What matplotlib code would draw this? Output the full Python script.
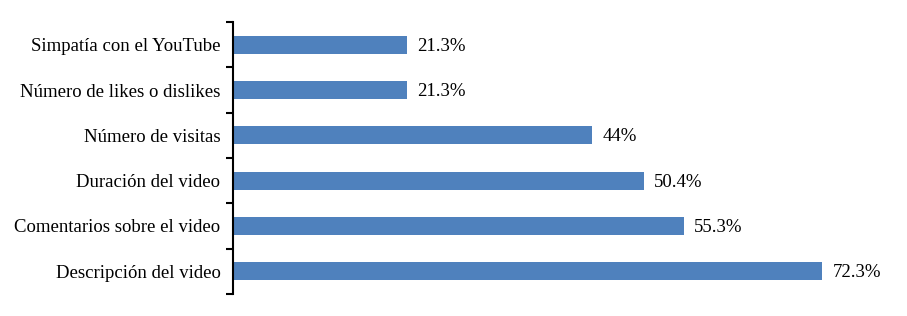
import matplotlib.pyplot as plt
import numpy as np

categories = ["Descripción del video", "Comentarios sobre el video", "Duración del video",
              "Número de visitas", "Número de likes o dislikes", "Simpatía con el YouTube"]
values = [72.3, 55.3, 50.4, 44, 21.3, 21.3]
value_labels = ["72.3%", "55.3%", "50.4%", "44%", "21.3%", "21.3%"]

plt.rcParams['font.family'] = ['Liberation Serif', 'DejaVu Serif']

fig = plt.figure(figsize=(9.07, 3.16), dpi=100)
ax = fig.add_axes([233 / 907, 22 / 316, (885 - 233) / 907, (294 - 22) / 316])

y = np.arange(len(categories))
ax.barh(y, values, height=0.4, color='#4F81BD', left=0)

for yi, v, lab in zip(y, values, value_labels):
    ax.text(v + 1.3, yi - 0.03, lab, va='center', ha='left', fontsize=13.5)

ax.set_xlim(0, 80)
ax.set_ylim(-0.5, len(categories) - 0.5)
ax.set_yticks(y)
ax.set_yticklabels(categories, fontsize=13.5)
ax.tick_params(axis='y', which='major', length=0, pad=9)
ax.set_yticks(np.arange(-0.5, len(categories), 1), minor=True)
ax.tick_params(axis='y', which='minor', length=5, width=1.5, direction='out')
ax.set_xticks([])
for s in ['top', 'right', 'bottom']:
    ax.spines[s].set_visible(False)
ax.spines['left'].set_linewidth(1.5)

fig.savefig('out.png', dpi=100)
